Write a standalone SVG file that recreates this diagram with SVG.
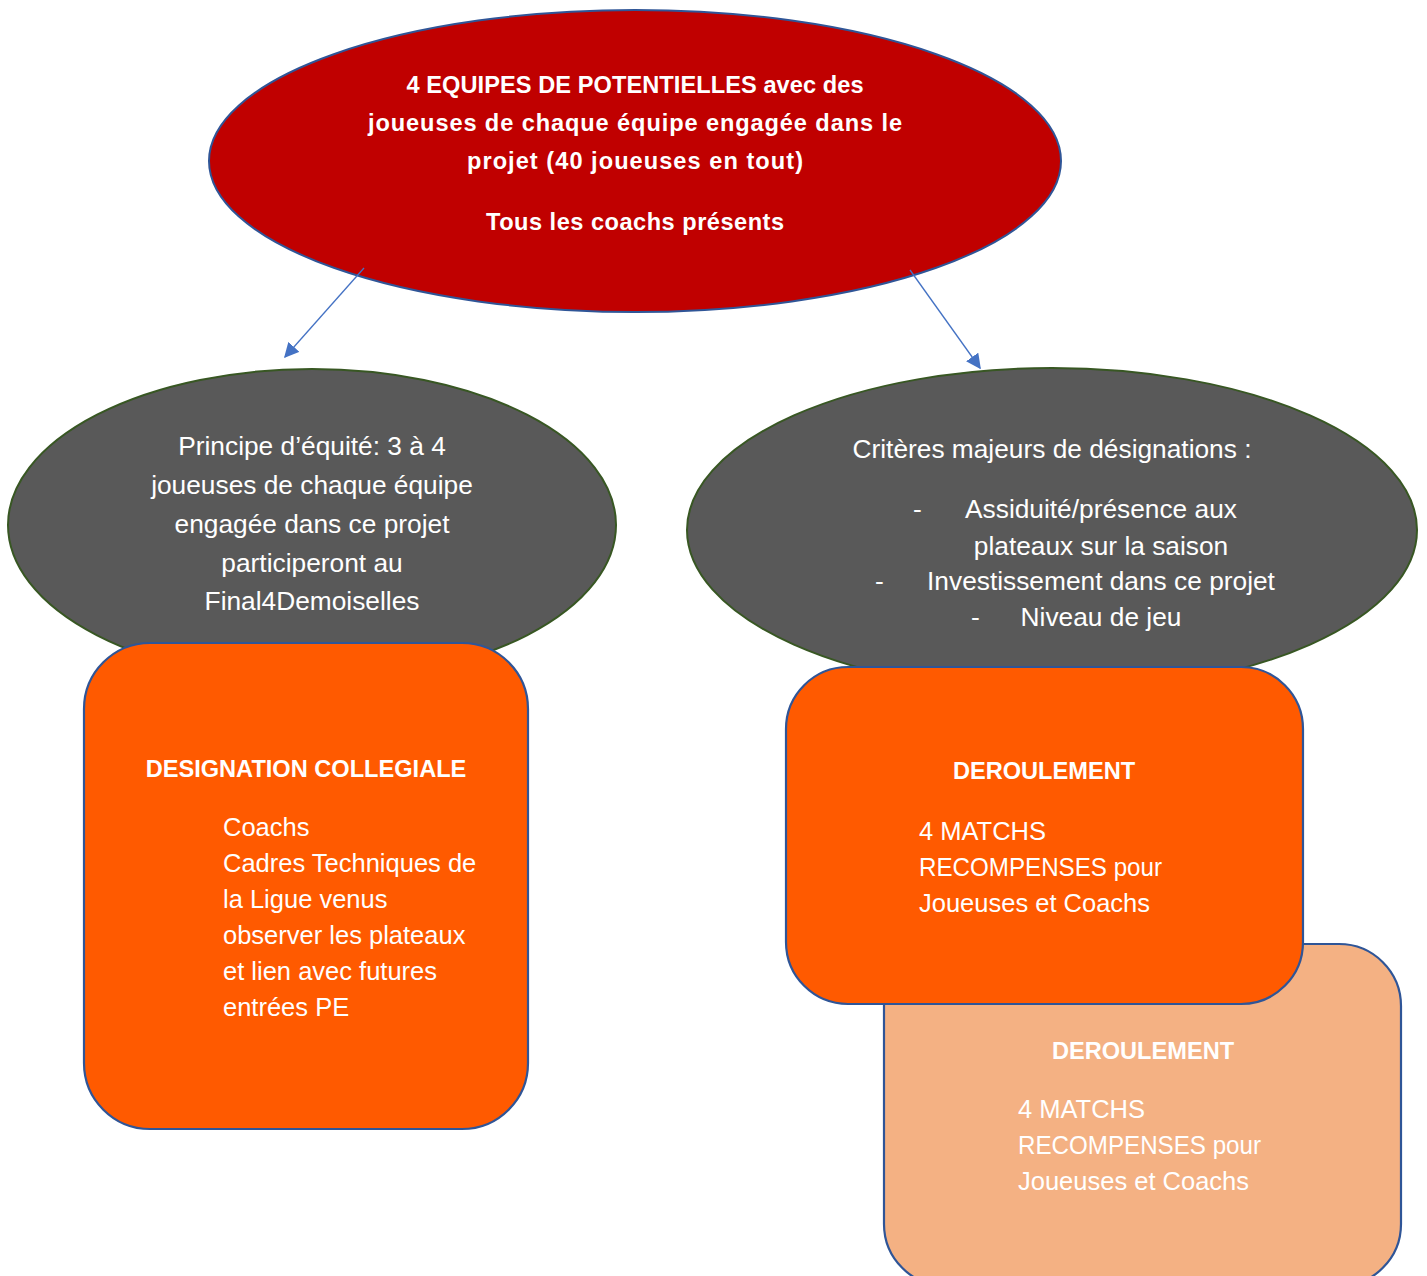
<svg xmlns="http://www.w3.org/2000/svg" width="1427" height="1276" viewBox="0 0 1427 1276">
<defs>
<style>
.t{font-family:"Liberation Sans",Arial,sans-serif;fill:#FFFFFF}
.b{font-weight:bold;font-size:23.6px}
.g{font-size:26.3px}
.r{font-size:25.5px}
.box{stroke:#2F5597;stroke-width:2.2}
.gray{fill:#595959;stroke:#385723;stroke-width:2}
.conn{stroke:#4472C4;stroke-width:1.3;fill:none}
</style>
<marker id="ah" viewBox="0 0 10 10" refX="9" refY="5" markerWidth="15" markerHeight="15" markerUnits="userSpaceOnUse" orient="auto">
<path d="M0,0 L10,5 L0,10 z" fill="#4472C4"/>
</marker>
</defs>
<rect width="1427" height="1276" fill="#FFFFFF"/>
<g id="top">
<ellipse cx="635" cy="161" rx="426" ry="151" fill="#C00000" stroke="#2F5597" stroke-width="2"/>
<text class="t b" text-anchor="middle" x="635" y="93" textLength="457" lengthAdjust="spacing">4 EQUIPES DE POTENTIELLES avec des</text>
<text class="t b" text-anchor="middle" x="635" y="131" textLength="534" lengthAdjust="spacing">joueuses de chaque équipe engagée dans le</text>
<text class="t b" text-anchor="middle" x="635" y="169" textLength="336" lengthAdjust="spacing">projet (40 joueuses en tout)</text>
<text class="t b" text-anchor="middle" x="635" y="230" textLength="298" lengthAdjust="spacing">Tous les coachs présents</text>
</g>
<g id="connectors">
<line class="conn" x1="364" y1="268" x2="285" y2="357" marker-end="url(#ah)"/>
<line class="conn" x1="910" y1="270" x2="980" y2="368" marker-end="url(#ah)"/>
</g>
<g id="equite">
<ellipse class="gray" cx="312" cy="525" rx="304" ry="156"/>
<text class="t g" text-anchor="middle" x="312" y="455">Principe d’équité: 3 à 4</text>
<text class="t g" text-anchor="middle" x="312" y="494">joueuses de chaque équipe</text>
<text class="t g" text-anchor="middle" x="312" y="533">engagée dans ce projet</text>
<text class="t g" text-anchor="middle" x="312" y="572">participeront au</text>
<text class="t g" text-anchor="middle" x="312" y="610">Final4Demoiselles</text>
</g>
<g id="criteres">
<ellipse class="gray" cx="1052" cy="530" rx="365" ry="162"/>
<text class="t g" text-anchor="middle" x="1052" y="458">Critères majeurs de désignations :</text>
<text class="t g" x="913" y="518">-</text>
<text class="t g" text-anchor="middle" x="1101" y="518">Assiduité/présence aux</text>
<text class="t g" text-anchor="middle" x="1101" y="555">plateaux sur la saison</text>
<text class="t g" x="875" y="590">-</text>
<text class="t g" text-anchor="middle" x="1101" y="590">Investissement dans ce projet</text>
<text class="t g" x="971" y="626">-</text>
<text class="t g" text-anchor="middle" x="1101" y="626">Niveau de jeu</text>
</g>
<g id="designation">
<rect class="box" x="84" y="643" width="444" height="486" rx="66" fill="#FF5A00"/>
<text class="t b" text-anchor="middle" x="306" y="777">DESIGNATION COLLEGIALE</text>
<text class="t r" x="223" y="836">Coachs</text>
<text class="t r" x="223" y="872">Cadres Techniques de</text>
<text class="t r" x="223" y="908">la Ligue venus</text>
<text class="t r" x="223" y="944">observer les plateaux</text>
<text class="t r" x="223" y="980">et lien avec futures</text>
<text class="t r" x="223" y="1016">entrées PE</text>
</g>
<g id="deroulement2">
<rect class="box" x="884" y="944" width="517" height="342" rx="62" fill="#F4B183"/>
<text class="t b" text-anchor="middle" x="1143" y="1059">DEROULEMENT</text>
<text class="t r" x="1018" y="1118">4 MATCHS</text>
<text class="t r" x="1018" y="1154" textLength="243" lengthAdjust="spacingAndGlyphs">RECOMPENSES pour</text>
<text class="t r" x="1018" y="1190">Joueuses et Coachs</text>
</g>
<g id="deroulement1">
<rect class="box" x="786" y="667" width="517" height="337" rx="62" fill="#FF5A00"/>
<text class="t b" text-anchor="middle" x="1044" y="779">DEROULEMENT</text>
<text class="t r" x="919" y="840">4 MATCHS</text>
<text class="t r" x="919" y="876" textLength="243" lengthAdjust="spacingAndGlyphs">RECOMPENSES pour</text>
<text class="t r" x="919" y="912">Joueuses et Coachs</text>
</g>
</svg>
